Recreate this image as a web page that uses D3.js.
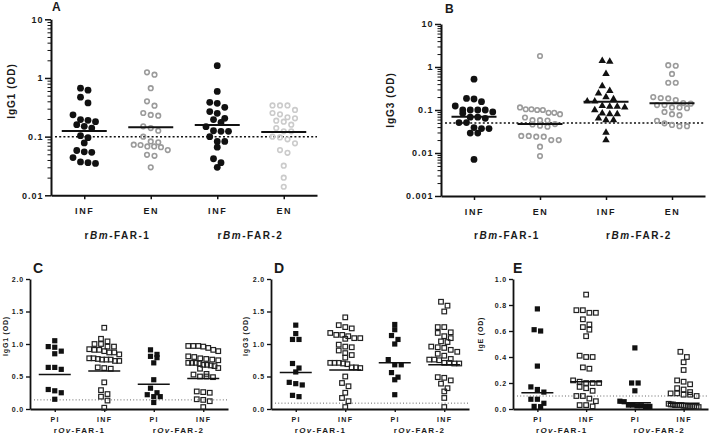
<!DOCTYPE html>
<html>
<head>
<meta charset="utf-8">
<script src="https://cdn.jsdelivr.net/npm/d3@7"></script>
<style>
  body { margin: 0; background: #fff; }
  svg { display: block; }
  text { font-family: "Liberation Sans", Arial, sans-serif; font-weight: bold; fill: #1a1a1a; }
</style>
</head>
<body>
<svg id="chart" width="713" height="435"></svg>
<script>
// ---- categories and tick labels ----
const bmCats = ["INF", "EN", "INF", "EN"];
const bmGroups = ["rBm-FAR-1", "rBm-FAR-2"];
const ovCats = ["PI", "INF", "PI", "INF"];
const ovGroups = ["rOv-FAR-1", "rOv-FAR-2"];

const ticksA = [0.01, 0.1, 1, 10];
const labelsA = ["0.01", "0.1", "1", "10"];
const ticksB = [0.001, 0.01, 0.1, 1, 10];
const labelsB = ["0.001", "0.01", "0.1", "1", "10"];
const ticksCD = [0, 0.5, 1, 1.5, 2];
const labelsCD = ["0.0", "0.5", "1.0", "1.5", "2.0"];
const ticksE = [0, 0.2, 0.4, 0.6, 0.8, 1];
const labelsE = ["0.0", "0.2", "0.4", "0.6", "0.8", "1.0"];

// ---- A: IgG1, rBm-FAR (OD, log) ----
const igg1BmInf1 = [0.67, 0.62, 0.47, 0.375, 0.235, 0.195, 0.19, 0.18, 0.16, 0.15, 0.14, 0.104, 0.096, 0.078, 0.058, 0.055, 0.054, 0.044, 0.037, 0.036, 0.035];
const igg1BmEn1 = [1.25, 1.14, 0.67, 0.40, 0.337, 0.253, 0.234, 0.228, 0.15, 0.14, 0.126, 0.10, 0.083, 0.08, 0.073, 0.072, 0.068, 0.068, 0.066, 0.059, 0.049, 0.047, 0.030];
const igg1BmInf2 = [1.62, 0.59, 0.385, 0.37, 0.316, 0.267, 0.25, 0.205, 0.195, 0.175, 0.148, 0.126, 0.123, 0.123, 0.10, 0.083, 0.083, 0.066, 0.042, 0.036, 0.030];
const igg1BmEn2 = [0.34, 0.34, 0.34, 0.285, 0.253, 0.24, 0.214, 0.205, 0.187, 0.18, 0.16, 0.14, 0.123, 0.123, 0.10, 0.097, 0.09, 0.077, 0.059, 0.053, 0.032, 0.02, 0.014];
const igg1BmMeans = [0.125, 0.145, 0.158, 0.12];
const igg1BmCut = 0.1;

// ---- B: IgG3, rBm-FAR (OD, log) ----
const igg3BmInf1 = [0.52, 0.186, 0.18, 0.156, 0.124, 0.10, 0.10, 0.10, 0.10, 0.09, 0.084, 0.068, 0.068, 0.064, 0.051, 0.051, 0.039, 0.037, 0.037, 0.029, 0.029, 0.0071];
const igg3BmEn1 = [1.8, 0.115, 0.104, 0.10, 0.10, 0.104, 0.086, 0.08, 0.086, 0.058, 0.057, 0.067, 0.058, 0.041, 0.043, 0.046, 0.047, 0.025, 0.024, 0.024, 0.025, 0.02, 0.02, 0.014, 0.0085];
const igg3BmInf2 = [1.33, 1.39, 0.69, 0.36, 0.28, 0.244, 0.2, 0.18, 0.16, 0.16, 0.125, 0.12, 0.115, 0.12, 0.1, 0.084, 0.08, 0.08, 0.064, 0.058, 0.058, 0.03, 0.02];
const igg3BmEn2 = [1.07, 1.1, 0.69, 0.43, 0.43, 0.2, 0.186, 0.17, 0.19, 0.14, 0.13, 0.145, 0.13, 0.11, 0.115, 0.115, 0.09, 0.08, 0.076, 0.049, 0.042, 0.042, 0.045, 0.056];
const igg3BmMeans = [0.07, 0.047, 0.155, 0.143];
const igg3BmCut = 0.05;

// ---- C: IgG1, rOv-FAR (OD) ----
const igg1OvPi1 = [1.05, 0.96, 0.95, 0.89, 0.85, 0.64, 0.61, 0.64, 0.30, 0.28, 0.25, 0.15];
const igg1OvInf1 = [1.25, 1.08, 1.04, 1.0, 1.0, 0.96, 0.96, 0.92, 0.91, 0.91, 0.87, 0.87, 0.89, 0.84, 0.78, 0.77, 0.78, 0.74, 0.76, 0.76, 0.76, 0.74, 0.63, 0.62, 0.64, 0.41, 0.29, 0.23, 0.19, 0.13, 0.02];
const igg1OvPi2 = [0.91, 0.84, 0.79, 0.81, 0.71, 0.45, 0.32, 0.25, 0.22, 0.19, 0.19, 0.10];
const igg1OvInf2 = [0.97, 0.97, 0.97, 0.96, 0.94, 0.91, 0.89, 0.81, 0.80, 0.78, 0.76, 0.77, 0.75, 0.71, 0.71, 0.71, 0.70, 0.68, 0.68, 0.67, 0.66, 0.63, 0.62, 0.54, 0.53, 0.50, 0.50, 0.49, 0.27, 0.26, 0.25, 0.15, 0.14, 0.12, 0.03];
const igg1OvMeans = [0.53, 0.585, 0.38, 0.47];
const igg1OvCut = 0.14;

// ---- D: IgG3, rOv-FAR (OD) ----
const igg3OvPi1 = [1.29, 1.16, 1.07, 1.07, 0.70, 0.63, 0.57, 0.41, 0.39, 0.37, 0.21, 0.19];
const igg3OvInf1 = [1.41, 1.29, 1.26, 1.24, 1.17, 1.14, 1.14, 1.12, 1.09, 1.08, 1.09, 0.99, 0.95, 0.96, 0.9, 0.86, 0.83, 0.79, 0.71, 0.71, 0.69, 0.70, 0.71, 0.64, 0.63, 0.64, 0.50, 0.40, 0.35, 0.25, 0.17, 0.12, 0.03];
const igg3OvPi2 = [1.30, 1.22, 1.13, 1.07, 1.0, 0.76, 0.68, 0.68, 0.56, 0.49, 0.45, 0.22];
const igg3OvInf2 = [1.65, 1.59, 1.50, 1.26, 1.26, 1.18, 1.17, 1.12, 1.09, 1.04, 1.03, 0.96, 0.95, 0.94, 0.91, 0.88, 0.85, 0.82, 0.77, 0.76, 0.76, 0.75, 0.71, 0.71, 0.70, 0.70, 0.49, 0.48, 0.44, 0.39, 0.32, 0.27, 0.17, 0.03];
const igg3OvMeans = [0.56, 0.60, 0.71, 0.68];
const igg3OvCut = 0.09;

// ---- E: IgE, rOv-FAR (OD) ----
const igeOvPi1 = [0.77, 0.61, 0.60, 0.33, 0.17, 0.15, 0.13, 0.075, 0.075, 0.044, 0.02, 0.018];
const igeOvInf1 = [0.88, 0.76, 0.76, 0.74, 0.74, 0.69, 0.65, 0.63, 0.61, 0.56, 0.41, 0.40, 0.40, 0.32, 0.31, 0.22, 0.21, 0.20, 0.20, 0.20, 0.17, 0.16, 0.14, 0.10, 0.10, 0.08, 0.06, 0.03, 0.03, 0.02];
const igeOvPi2 = [0.47, 0.2, 0.2, 0.14, 0.06, 0.056, 0.03, 0.025, 0.02, 0.02, 0.025, 0.03];
const igeOvInf2 = [0.44, 0.40, 0.36, 0.30, 0.22, 0.21, 0.19, 0.16, 0.15, 0.13, 0.12, 0.12, 0.11, 0.11, 0.10, 0.04, 0.035, 0.03, 0.03, 0.03, 0.025, 0.025, 0.02, 0.02, 0.02, 0.02, 0.015, 0.015, 0.03, 0.035];
const igeOvMeans = [0.125, 0.21, 0.048, 0.044];
const igeOvCut = 0.10;

const svg = d3.select("#chart");

// marker styles
const dot = { shape: "circle", size: 6.8, fill: "#111", stroke: "none" };
const ringMid = { shape: "circle", size: 6.2, fill: "none", stroke: "#9b9b9b", sw: 1.6 };
const ringLight = { shape: "circle", size: 6.2, fill: "none", stroke: "#cbcbcb", sw: 1.6 };
const tri = { shape: "triangle", size: 7.5, fill: "#111", stroke: "none" };
const sqFill = { shape: "square", size: 5.2, fill: "#111", stroke: "none" };
const sqOpen = { shape: "square", size: 4.6, fill: "none", stroke: "#222", sw: 1.2 };

// Prism-like row layout: points close in y share a row and are spread sideways
function rowLayout(vals, y, rowH, gap, maxW) {
  const pts = vals.map(v => ({ v: v, py: y(v) })).sort((a, b) => a.py - b.py);
  const out = [];
  let i = 0;
  while (i < pts.length) {
    const row = [pts[i]];
    let j = i + 1;
    while (j < pts.length && pts[j].py - pts[i].py < rowH) row.push(pts[j++]);
    const n = row.length;
    const step = n > 1 ? Math.min(gap, maxW / (n - 1)) : 0;
    row.forEach((p, k) => { p.dx = (k - (n - 1) / 2) * step; out.push(p); });
    i = j;
  }
  return out;
}

function groupLabel(sel, label) {
  sel.append("tspan").text(label.slice(0, 1));
  sel.append("tspan").style("font-style", "italic").text(label.slice(1, 3));
  sel.append("tspan").text(label.slice(3));
}

function drawPanel(p) {
  const g = svg.append("g");
  const x = d3.scalePoint().domain(d3.range(p.cats.length)).range([p.left, p.right]).padding(0.5);
  const y = (p.log ? d3.scaleLog() : d3.scaleLinear()).domain(p.domain).range([p.bottom, p.top]);

  // y axis (+ minor ticks on log panels)
  if (p.log) {
    const minor = y.ticks().filter(t => !p.ticks.some(m => Math.abs(m - t) / m < 1e-6));
    g.append("g")
      .attr("transform", "translate(" + p.left + ",0)")
      .call(d3.axisLeft(y).tickValues(minor).tickSize(p.minorLen).tickFormat(""))
      .call(a => a.select(".domain").remove())
      .selectAll("line").attr("stroke", "#111").attr("stroke-width", 1);
  }
  const ya = g.append("g")
    .attr("transform", "translate(" + p.left + ",0)")
    .call(d3.axisLeft(y).tickValues(p.ticks).tickFormat((d, i) => p.tickLabels[i])
      .tickSize(p.tickLen).tickSizeOuter(0).tickPadding(p.tickPad));
  ya.select(".domain").attr("stroke", "#111").attr("stroke-width", p.axisW);
  ya.selectAll(".tick line").attr("stroke", "#111").attr("stroke-width", p.axisW * 0.75);
  ya.selectAll(".tick text").style("font-size", p.tickFont + "px")
    .style("letter-spacing", p.spacing + "px").attr("fill", "#1a1a1a")
    .style("font-family", "'Liberation Sans', Arial, sans-serif");

  // x axis
  const xa = g.append("g")
    .attr("transform", "translate(0," + p.bottom + ")")
    .call(d3.axisBottom(x).tickFormat(i => p.cats[i]).tickSize(p.xTickLen).tickSizeOuter(0).tickPadding(p.xPad));
  xa.select(".domain").attr("stroke", "#111").attr("stroke-width", p.axisW);
  xa.selectAll(".tick line").attr("stroke", "#111").attr("stroke-width", p.axisW * 0.75);
  xa.selectAll(".tick text").style("font-size", p.catFont + "px")
    .style("letter-spacing", p.spacing + 0.6 + "px").attr("fill", "#1a1a1a")
    .style("font-family", "'Liberation Sans', Arial, sans-serif");

  // group labels under pairs of columns
  p.groups.forEach((lab, k) => {
    const cx = (x(2 * k) + x(2 * k + 1)) / 2;
    const t = g.append("text").attr("x", cx).attr("y", p.groupY)
      .attr("text-anchor", "middle")
      .style("font-size", p.groupFont + "px").style("letter-spacing", p.spacing + 0.5 + "px");
    groupLabel(t, lab);
  });

  // y title and panel letter
  g.append("text")
    .attr("transform", "translate(" + p.titleX + "," + p.titleY + ") rotate(-90)")
    .attr("text-anchor", "middle").attr("dy", "0.35em")
    .style("font-size", p.titleFont + "px").style("letter-spacing", p.spacing + "px")
    .text(p.title);
  g.append("text").attr("x", p.letterX).attr("y", p.letterY)
    .style("font-size", p.letterFont + "px").text(p.letter);

  // cutoff line
  g.append("line")
    .attr("x1", p.left + 4).attr("x2", p.right)
    .attr("y1", y(p.cut)).attr("y2", y(p.cut))
    .attr("stroke", p.cutColor).attr("stroke-width", p.cutW)
    .attr("stroke-dasharray", p.cutDash);

  // points
  p.series.forEach((vals, k) => {
    const st = p.styles[k];
    const pts = rowLayout(vals, y, p.rowH, p.gap, p.maxW);
    const cx = x(k);
    const sg = g.append("g");
    if (st.shape === "circle") {
      sg.selectAll("circle").data(pts).join("circle")
        .attr("cx", d => cx + d.dx).attr("cy", d => d.py)
        .attr("r", st.size / 2 - (st.sw || 0) / 2)
        .attr("fill", st.fill).attr("stroke", st.stroke).attr("stroke-width", st.sw || 0);
    } else if (st.shape === "square") {
      sg.selectAll("rect").data(pts).join("rect")
        .attr("x", d => cx + d.dx - st.size / 2).attr("y", d => d.py - st.size / 2)
        .attr("width", st.size).attr("height", st.size)
        .attr("fill", st.fill).attr("stroke", st.stroke).attr("stroke-width", st.sw || 0);
    } else {
      const area = st.size * st.size * Math.sqrt(3) / 4;
      sg.selectAll("path").data(pts).join("path")
        .attr("d", d3.symbol(d3.symbolTriangle, area))
        .attr("transform", d => "translate(" + (cx + d.dx) + "," + d.py + ")")
        .attr("fill", st.fill);
    }
  });

  // mean lines
  g.append("g").selectAll("line").data(p.means).join("line")
    .attr("x1", (d, i) => x(i) - p.meanHalf).attr("x2", (d, i) => x(i) + p.meanHalf)
    .attr("y1", d => y(d)).attr("y2", d => y(d))
    .attr("stroke", "#111").attr("stroke-width", p.meanW);
}

const topStyle = {
  log: true, axisW: 2, tickLen: 6, minorLen: 3.5, tickPad: 1.5, tickFont: 9, spacing: 1,
  xTickLen: 4, xPad: 8.5, catFont: 9, groupFont: 10, titleFont: 10, letterFont: 12,
  cutColor: "#111", cutW: 1.5, cutDash: "2,2.2", rowH: 6.8, gap: 7.5, maxW: 34,
  meanHalf: 22.5, meanW: 2, groupY: 239
};
const lowStyle = {
  log: false, axisW: 1.8, tickLen: 4, tickPad: 2, tickFont: 7, spacing: 0.8,
  xTickLen: 3, xPad: 5.5, catFont: 7, groupFont: 8, titleFont: 7, letterFont: 14,
  cutColor: "#666", cutW: 1, cutDash: "1,2.2", rowH: 5.2, gap: 6.5, maxW: 30,
  meanHalf: 16, meanW: 1.5, groupY: 432.5, top: 279, bottom: 409, letterY: 273
};

drawPanel(Object.assign({}, topStyle, {
  left: 51, right: 317, top: 19.3, bottom: 195.3, domain: [0.01, 10],
  ticks: ticksA, tickLabels: labelsA, cats: bmCats, groups: bmGroups,
  title: "IgG1 (OD)", titleX: 11, titleY: 91, letter: "A", letterX: 52, letterY: 10.5,
  series: [igg1BmInf1, igg1BmEn1, igg1BmInf2, igg1BmEn2], means: igg1BmMeans, cut: igg1BmCut,
  styles: [dot, ringMid, dot, ringLight]
}));

drawPanel(Object.assign({}, topStyle, {
  left: 441, right: 705, top: 24, bottom: 196, domain: [0.001, 10],
  ticks: ticksB, tickLabels: labelsB, cats: bmCats, groups: bmGroups,
  title: "IgG3 (OD)", titleX: 390, titleY: 100, letter: "B", letterX: 445, letterY: 13,
  series: [igg3BmInf1, igg3BmEn1, igg3BmInf2, igg3BmEn2], means: igg3BmMeans, cut: igg3BmCut,
  styles: [dot, ringMid, tri, ringMid], maxW: 40
}));

drawPanel(Object.assign({}, lowStyle, {
  left: 30, right: 228, domain: [0, 2], ticks: ticksCD, tickLabels: labelsCD,
  cats: ovCats, groups: ovGroups, title: "IgG1 (OD)", titleX: 6, titleY: 336,
  letter: "C", letterX: 33,
  series: [igg1OvPi1, igg1OvInf1, igg1OvPi2, igg1OvInf2], means: igg1OvMeans, cut: igg1OvCut,
  styles: [sqFill, sqOpen, sqFill, sqOpen]
}));

drawPanel(Object.assign({}, lowStyle, {
  left: 271, right: 469, domain: [0, 2], ticks: ticksCD, tickLabels: labelsCD,
  cats: ovCats, groups: ovGroups, title: "IgG3 (OD)", titleX: 246, titleY: 336,
  letter: "D", letterX: 274,
  series: [igg3OvPi1, igg3OvInf1, igg3OvPi2, igg3OvInf2], means: igg3OvMeans, cut: igg3OvCut,
  styles: [sqFill, sqOpen, sqFill, sqOpen]
}));

drawPanel(Object.assign({}, lowStyle, {
  left: 513, right: 708, domain: [0, 1], ticks: ticksE, tickLabels: labelsE,
  cats: ovCats, groups: ovGroups, title: "IgE (OD)", titleX: 481, titleY: 334,
  letter: "E", letterX: 513,
  series: [igeOvPi1, igeOvInf1, igeOvPi2, igeOvInf2], means: igeOvMeans, cut: igeOvCut,
  styles: [sqFill, sqOpen, sqFill, sqOpen]
}));
</script>
</body>
</html>
